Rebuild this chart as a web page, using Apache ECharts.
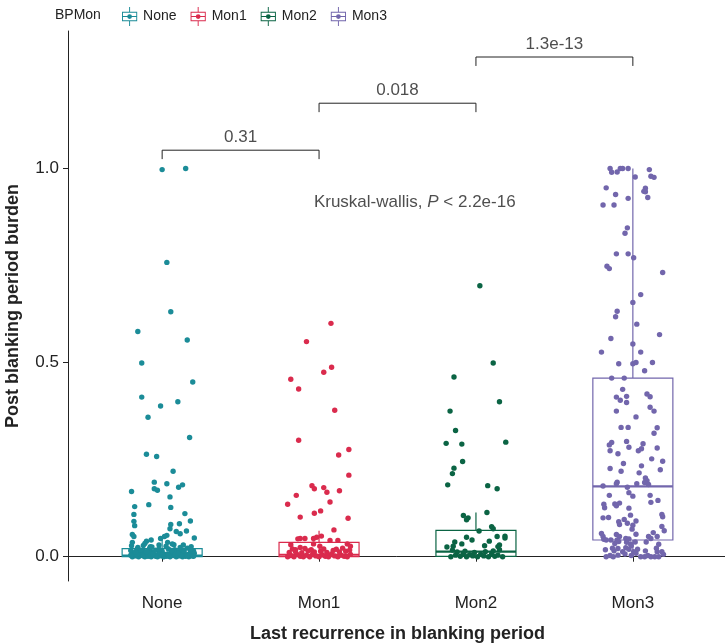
<!DOCTYPE html>
<html>
<head>
<meta charset="utf-8">
<script src="https://cdn.jsdelivr.net/npm/echarts@6/dist/echarts.min.js"></script>
<style>
  html, body { margin: 0; padding: 0; background: #fff; }
  #box { width: 725px; height: 643px; }
</style>
</head>
<body>
<div id="box"></div>
<script>
// categories and colours
var categories = ['None', 'Mon1', 'Mon2', 'Mon3'];
var colors = ['#1B8C98', '#DA2B4D', '#0B6444', '#7266AC'];

// box stats: [min, q1, median, q3, upper whisker]
var boxNone = [0, 0, 0.003, 0.021, 0.05];
var boxMon1 = [0, 0, 0.005, 0.037, 0.067];
var boxMon2 = [0, 0.001, 0.013, 0.068, 0.114];
var boxMon3 = [0, 0.043, 0.181, 0.46, 1.0];

// jittered points: [jitter offset, burden]
var pointsNone = [
  [0,0.997],[0.15,1.0],[0.03,0.758],[0.055,0.631],[-0.155,0.58],[0.16,0.558],[-0.13,0.499],[0.195,0.45],
  [-0.13,0.411],[-0.01,0.388],[0.10,0.399],[-0.09,0.359],[0.175,0.307],[-0.10,0.264],[-0.035,0.258],[0.07,0.22],
  [-0.195,0.168],[-0.05,0.192],[-0.05,0.175],[-0.03,0.171],[0.03,0.188],[0.105,0.179],[0.13,0.185],[0.05,0.154],
  [-0.175,0.129],[-0.085,0.134],[0.055,0.127],[-0.18,0.109],[-0.18,0.091],[-0.175,0.08],[0.145,0.111],[0.18,0.092],
  [0.055,0.083],[0.11,0.085],[0.05,0.072],[0.155,0.066],[0.09,0.065],[0.115,0.059],[-0.19,0.057],[-0.18,0.052],
  [-0.19,0.037],[-0.10,0.04],[-0.07,0.043],[-0.01,0.047],[0.015,0.052],[0.03,0.055],[0.205,0.048],[0.035,0.037],
  [0.075,0.031],[-0.12,0.029],[-0.075,0.026],
  [-0.19,0],[-0.17,0.002],[-0.15,0],[-0.13,0.004],[-0.11,0],[-0.09,0.001],[-0.07,0],[-0.05,0.003],[-0.03,0],
  [-0.01,0.002],[0.01,0],[0.03,0.001],[0.05,0],[0.07,0.003],[0.09,0],[0.11,0.002],[0.13,0],[0.15,0.001],[0.17,0],
  [0.19,0.002],[-0.18,0.008],[-0.14,0.011],[-0.1,0.007],[-0.06,0.012],[-0.02,0.009],[0.02,0.006],[0.06,0.01],
  [0.1,0.013],[0.14,0.008],[0.18,0.011],[-0.2,0.016],[-0.16,0.019],[-0.12,0.015],[-0.08,0.021],[-0.04,0.017],
  [0,0.014],[0.04,0.02],[0.08,0.018],[0.12,0.016],[0.16,0.022],[0.2,0.015],[-0.185,0.005],[-0.125,0.006],
  [-0.045,0.005],[0.035,0.007],[0.095,0.005],[0.165,0.006],[0.205,0.009],[-0.155,0.024],[-0.065,0.025],
  [0.025,0.027],[0.115,0.024],[0.185,0.026],[-0.195,0.028],[0.135,0.03],[-0.02,0.03],[0.065,0.033],[-0.11,0.034],
  [-0.2,0.004],[-0.16,0.006],[-0.12,0.002],[-0.08,0.009],[-0.04,0.001],[0,0.005],[0.04,0.004],[0.08,0.006],
  [0.12,0.005],[0.16,0.003],[0.2,0.001],[-0.14,0.017],[-0.1,0.013],[-0.02,0.019],[0.06,0.016],[0.14,0.014],
  [0.18,0.019],[-0.06,0.007],[0.1,0.009],[-0.17,0.013]
];
var pointsMon1 = [
  [0.076,0.601],[-0.08,0.554],[0.08,0.488],[0.03,0.475],[-0.18,0.457],[-0.13,0.432],[0.10,0.377],[-0.13,0.30],
  [0.125,0.262],[0.19,0.276],[0.19,0.21],[-0.045,0.183],[-0.03,0.175],[0.03,0.178],[0.05,0.166],[0.13,0.17],
  [-0.145,0.158],[-0.2,0.135],[0.07,0.141],[0.01,0.118],[-0.03,0.112],[-0.12,0.102],[0.185,0.099],[0.095,0.069],
  [-0.135,0.046],[-0.12,0.047],[-0.09,0.047],[-0.035,0.047],[-0.015,0.05],[0.015,0.053],[0.07,0.042],[0.12,0.042],
  [-0.18,0.031],[0.18,0.033],[0.2,0.027],[-0.12,0.024],[-0.035,0.033],[0.005,0.027],[-0.15,0.018],
  [-0.2,0],[-0.18,0.003],[-0.16,0],[-0.14,0.006],[-0.12,0.001],[-0.1,0],[-0.08,0.004],[-0.06,0],[-0.04,0.008],
  [-0.02,0.002],[0,0],[0.02,0.005],[0.04,0.001],[0.06,0],[0.08,0.007],[0.1,0.002],[0.12,0],[0.14,0.004],
  [0.16,0.001],[0.18,0],[0.2,0.006],[-0.19,0.011],[-0.15,0.013],[-0.11,0.01],[-0.07,0.015],[-0.03,0.012],
  [0.01,0.014],[0.05,0.011],[0.09,0.016],[0.13,0.012],[0.17,0.014],[-0.17,0.02],[-0.09,0.021],[-0.05,0.018],
  [0.03,0.02],[0.11,0.019],[0.15,0.022],[0.195,0.017]
];
var pointsMon2 = [
  [0.025,0.698],[0.11,0.499],[-0.14,0.463],[0.15,0.399],[-0.165,0.375],[-0.13,0.325],[-0.19,0.292],[-0.09,0.29],
  [0.19,0.295],[-0.085,0.245],[-0.14,0.228],[-0.15,0.214],[-0.18,0.185],[0.075,0.183],[0.135,0.175],
  [-0.08,0.106],[-0.05,0.1],[-0.06,0.095],[0.07,0.114],[0.10,0.077],[0.11,0.072],[0.02,0.066],[-0.06,0.05],
  [-0.025,0.043],[-0.135,0.038],[-0.09,0.033],[-0.185,0.025],[-0.145,0.027],[0.085,0.04],[0.055,0.028],
  [0.135,0.052],[0.185,0.053],[0.185,0.048],[0.15,0.03],[0.14,0.026],
  [-0.16,0],[-0.13,0.004],[-0.1,0.001],[-0.08,0.008],[-0.06,0],[-0.04,0.005],[-0.02,0.002],[0.01,0],
  [0.03,0.006],[0.05,0.002],[0.08,0],[0.1,0.007],[0.12,0.001],[0.14,0.004],[0.17,0],[-0.12,0.012],
  [-0.07,0.014],[-0.01,0.011],[0.06,0.013],[0.11,0.015],[-0.15,0.017],[0.15,0.018]
];
var pointsMon3 = [
  [-0.145,1.0],[-0.135,0.99],[-0.1,0.991],[-0.08,1.0],[-0.065,1.0],[-0.03,1.0],[0.105,0.997],[0.015,0.978],
  [0.115,0.98],[0.135,0.977],[-0.17,0.95],[0.08,0.949],[0.07,0.941],[0.08,0.94],[-0.11,0.933],[-0.03,0.923],
  [0.095,0.925],[-0.19,0.906],[-0.12,0.906],[-0.035,0.847],[-0.05,0.833],[-0.105,0.78],[-0.03,0.78],[0.005,0.77],
  [-0.165,0.748],[-0.15,0.742],[0.19,0.732],[0.05,0.675],[0,0.655],[-0.1,0.632],[-0.11,0.618],[0.025,0.599],
  [0.17,0.572],[-0.14,0.562],[0,0.548],[-0.2,0.527],[0.05,0.527],
  [-0.09,0.497],[0,0.497],[0.02,0.5],[0.125,0.5],[0.075,0.479],[-0.135,0.46],[-0.055,0.46],[-0.065,0.431],
  [-0.105,0.411],[-0.08,0.403],[-0.04,0.413],[-0.04,0.397],[0.09,0.419],[0.11,0.412],[0.11,0.385],[0.135,0.375],
  [-0.105,0.375],[0.02,0.36],[-0.075,0.333],[-0.03,0.333],[0.155,0.332],[0.135,0.318],[-0.135,0.294],
  [-0.15,0.288],[-0.145,0.273],[-0.04,0.297],[-0.025,0.282],[0.065,0.291],[0.055,0.278],[0.035,0.273],
  [0.155,0.28],[-0.095,0.265],[0.12,0.252],[0.19,0.246],[-0.06,0.24],[0.055,0.234],[-0.145,0.227],[-0.075,0.22],
  [0.175,0.224],[0.04,0.216],[0.08,0.203],[0.09,0.196],[-0.1,0.192],[0.025,0.188],[0.075,0.191],[0.1,0.186],
  [-0.19,0.182],[-0.035,0.179],[-0.105,0.188],[-0.15,0.158],[-0.025,0.165],[0,0.156],[0.11,0.158],[0.115,0.14],
  [0.16,0.145],[-0.185,0.135],[-0.18,0.126],[-0.115,0.136],[-0.105,0.131],[-0.085,0.138],[-0.025,0.125],
  [-0.015,0.107],[-0.19,0.1],[-0.155,0.101],[0.185,0.109],[0.19,0.103],[-0.09,0.09],[-0.085,0.083],
  [-0.055,0.096],[-0.035,0.086],[0,0.081],[0.02,0.092],[0.185,0.078],[0.2,0.067],[-0.005,0.071],[-0.2,0.06],
  [-0.19,0.052],[-0.105,0.057],[-0.085,0.052],[0.02,0.058],[0.1,0.052],[0.13,0.062],[0.155,0.052],
  [-0.185,0.045],[-0.17,0.043],[-0.14,0.043],[-0.1,0.043],[-0.045,0.047],[-0.025,0.046],[0.085,0.038],
  [0.115,0.047],[0.165,0.032],[-0.115,0.034],[-0.09,0.039],[-0.04,0.037],[-0.015,0.033],[0.015,0.038],
  [-0.175,0.018],[-0.13,0.022],[-0.12,0.015],[-0.095,0.021],[-0.065,0.013],[-0.045,0.023],[-0.025,0.019],
  [-0.01,0.028],[0.005,0.013],[0.03,0.019],[0.15,0.022],[0.185,0.013],[0.155,0.013],[-0.17,0],[-0.145,0.003],
  [-0.125,0],[-0.095,0.004],[-0.05,0.007],[-0.01,0.003],[0.02,0.009],[0.05,0],[0.075,0],[0.095,0.003],
  [0.115,0],[0.14,0],[0.165,0],[0.195,0.006],[0.08,0.015]
];

// pairwise comparisons
var bracketPairs = [[1, 2], [2, 3], [3, 4]];
var bracketLabels = ['0.31', '0.018', '1.3e-13'];
var bracketHeights = [1.047, 1.168, 1.287];
var bracketDrop = 0.023;

// global test annotation
var kwPosition = [2.61, 0.913];

var BOX_HALF = 0.255;
var FONT = 'Liberation Sans, Arial, sans-serif';

var myChart = echarts.init(document.getElementById('box'));

var boxes = [boxNone, boxMon1, boxMon2, boxMon3];
var pointSets = [pointsNone, pointsMon1, pointsMon2, pointsMon3];

// box + whiskers without end caps, like ggplot
function renderBox(params, api) {
    var x = api.value(0);
    var lo = api.value(1), q1 = api.value(2), med = api.value(3), q3 = api.value(4), hi = api.value(5);
    var tl = api.coord([x - BOX_HALF, q3]);
    var br = api.coord([x + BOX_HALF, q1]);
    var m = api.coord([x, med]);
    var top = api.coord([x, hi]);
    var bot = api.coord([x, lo]);
    var c = colors[params.dataIndex];
    return {
        type: 'group',
        children: [
            { type: 'line', shape: { x1: top[0], y1: top[1], x2: top[0], y2: tl[1] }, style: { stroke: c, lineWidth: 1.2 } },
            { type: 'line', shape: { x1: bot[0], y1: br[1], x2: bot[0], y2: bot[1] }, style: { stroke: c, lineWidth: 1.2 } },
            { type: 'rect', shape: { x: tl[0], y: tl[1], width: br[0] - tl[0], height: br[1] - tl[1] },
              style: { stroke: c, fill: '#ffffff', lineWidth: 1.2 } },
            { type: 'line', shape: { x1: tl[0], y1: m[1], x2: br[0], y2: m[1] }, style: { stroke: c, lineWidth: 2.2 } }
        ]
    };
}

var series = [];

series.push({
    type: 'custom',
    name: 'boxes',
    renderItem: renderBox,
    data: boxes.map(function (b, i) { return [i + 1].concat(b); }),
    z: 1,
    silent: true
});

categories.forEach(function (cat, i) {
    series.push({
        type: 'scatter',
        name: cat,
        symbolSize: 5.4,
        itemStyle: { color: colors[i], opacity: 1 },
        data: pointSets[i].map(function (p) { return [i + 1 + p[0], p[1]]; }),
        z: 3
    });
});

// brackets
bracketPairs.forEach(function (pair, k) {
    var h = bracketHeights[k];
    series.push({
        type: 'line',
        name: 'bracket' + k,
        data: [[pair[0], h - bracketDrop], [pair[0], h], [pair[1], h], [pair[1], h - bracketDrop]],
        symbol: 'none',
        lineStyle: { color: '#222', width: 1 },
        silent: true,
        z: 4
    });
});

series.push({
    type: 'scatter',
    name: 'labels',
    symbolSize: 0,
    silent: true,
    data: bracketPairs.map(function (pair, k) {
        return [(pair[0] + pair[1]) / 2, bracketHeights[k], bracketLabels[k]];
    }),
    label: {
        show: true,
        position: 'top',
        distance: 4,
        formatter: function (p) { return p.value[2]; },
        fontSize: 17,
        fontFamily: FONT,
        color: '#222'
    },
    z: 5
});

series.push({
    type: 'scatter',
    name: 'kw',
    symbolSize: 0,
    silent: true,
    data: [kwPosition],
    label: {
        show: true,
        position: 'inside',
        formatter: 'Kruskal-wallis, {i|P} < 2.2e-16',
        fontSize: 17,
        fontFamily: FONT,
        color: '#222',
        rich: {
            i: { fontStyle: 'italic', fontSize: 17, fontFamily: FONT, color: '#222' }
        }
    },
    z: 5
});

var legendIcon = 'path://M9.5,0h1v5h-1Z M2,5H18V15H2Z M3,6V14H17V6Z M3,9.5H17V10.5H3Z M9.5,15h1v5h-1Z M7.5,10a2.5,2.5 0 1,1 5,0a2.5,2.5 0 1,1 -5,0Z';

var option = {
    animation: false,
    textStyle: { fontFamily: FONT },
    grid: { left: 68, right: -2, top: 31, bottom: 62, outerBoundsMode: 'none' },
    legend: {
        data: categories.map(function (c) { return { name: c, icon: legendIcon }; }),
        left: 117,
        top: 2,
        itemWidth: 17,
        itemHeight: 19,
        itemGap: 14,
        textStyle: { fontSize: 14, color: '#222', fontFamily: FONT }
    },
    graphic: [{
        type: 'text',
        left: 55,
        top: 8,
        style: { text: 'BPMon', fontSize: 14, fill: '#222', fontFamily: FONT }
    }],
    xAxis: {
        type: 'value',
        min: 0.4,
        max: 4.6,
        splitLine: { show: false },
        axisLine: { show: true, lineStyle: { color: '#222', width: 1 } },
        axisTick: { show: true, customValues: [1, 2, 3, 4], length: 5, lineStyle: { color: '#222' } },
        axisLabel: {
            customValues: [1, 2, 3, 4],
            formatter: function (v) { return categories[Math.round(v) - 1]; },
            fontSize: 17,
            color: '#222',
            margin: 14
        },
        name: 'Last recurrence in blanking period',
        nameLocation: 'middle',
        nameGap: 44,
        nameTextStyle: { fontSize: 18, fontWeight: 'bold', color: '#222' }
    },
    yAxis: {
        type: 'value',
        min: -0.0626,
        max: 1.354,
        splitLine: { show: false },
        axisLine: { show: true, lineStyle: { color: '#222', width: 1 } },
        axisTick: { show: true, customValues: [0, 0.5, 1], length: 5, lineStyle: { color: '#222' } },
        axisLabel: {
            customValues: [0, 0.5, 1],
            formatter: function (v) { return v.toFixed(1); },
            fontSize: 17,
            color: '#222',
            margin: 9
        },
        name: 'Post blanking period burden',
        nameLocation: 'middle',
        nameGap: 46,
        nameTextStyle: { fontSize: 18, fontWeight: 'bold', color: '#222' }
    },
    series: series
};

myChart.setOption(option);

window.addEventListener('resize', function () {
    myChart.resize();
});
</script>
</body>
</html>
